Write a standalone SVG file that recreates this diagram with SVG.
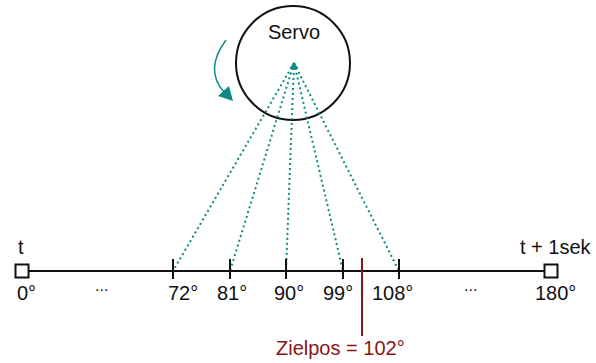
<svg xmlns="http://www.w3.org/2000/svg" width="596" height="363" viewBox="0 0 596 363">
<style>
text{font-family:"Liberation Sans",Arial,sans-serif;font-size:20px;fill:#111}
.ray{stroke:#0e8a87;stroke-width:2;stroke-dasharray:2 3;fill:none}
.tick{stroke:#111;stroke-width:2}
.red{fill:#8b1414}
</style>
<rect width="596" height="363" fill="#fff"/>
<g id="servo">
<circle cx="293" cy="63" r="57" fill="none" stroke="#111" stroke-width="2"/>
<text x="294" y="39" text-anchor="middle">Servo</text>
</g>
<g id="rotation">
<path d="M226,40 Q204,70 224,92" fill="none" stroke="#0e8a87" stroke-width="1.5"/>
<polygon points="218,96 229,86 233,101" fill="#0e8a87"/>
</g>
<g id="connectors">
<path class="ray" d="M294,63 L173,271"/>
<path class="ray" d="M294,63 L230,271"/>
<path class="ray" d="M294,63 L286,271"/>
<path class="ray" d="M294,63 L343,271"/>
<path class="ray" d="M294,63 L399,271"/>
<path d="M294,62 L290,68 L298,68 Z" fill="#0e8a87"/>
</g>
<g id="timeline">
<line x1="28" y1="271" x2="544" y2="271" stroke="#111" stroke-width="2"/>
<rect x="15.5" y="264.5" width="13" height="13" fill="#fff" stroke="#111" stroke-width="2"/>
<rect x="544.5" y="264.5" width="13" height="13" fill="#fff" stroke="#111" stroke-width="2"/>
<line class="tick" x1="173" y1="259" x2="173" y2="279"/>
<line class="tick" x1="230" y1="259" x2="230" y2="279"/>
<line class="tick" x1="286" y1="259" x2="286" y2="279"/>
<line class="tick" x1="343" y1="259" x2="343" y2="279"/>
<line class="tick" x1="399" y1="259" x2="399" y2="279"/>
<text x="18" y="254">t</text>
<text x="520" y="254">t + 1sek</text>
<text x="17" y="300">0°</text>
<text x="95" y="291" style="font-size:16px">...</text>
<text x="168" y="300">72°</text>
<text x="217" y="300">81°</text>
<text x="274" y="300">90°</text>
<text x="323" y="300">99°</text>
<text x="372" y="300">108°</text>
<text x="464" y="291" style="font-size:16px">...</text>
<text x="535" y="300">180°</text>
</g>
<g id="target">
<line x1="362" y1="258" x2="362" y2="336" stroke="#8b1414" stroke-width="2"/>
<text class="red" x="276" y="355">Zielpos = 102°</text>
</g>
</svg>
